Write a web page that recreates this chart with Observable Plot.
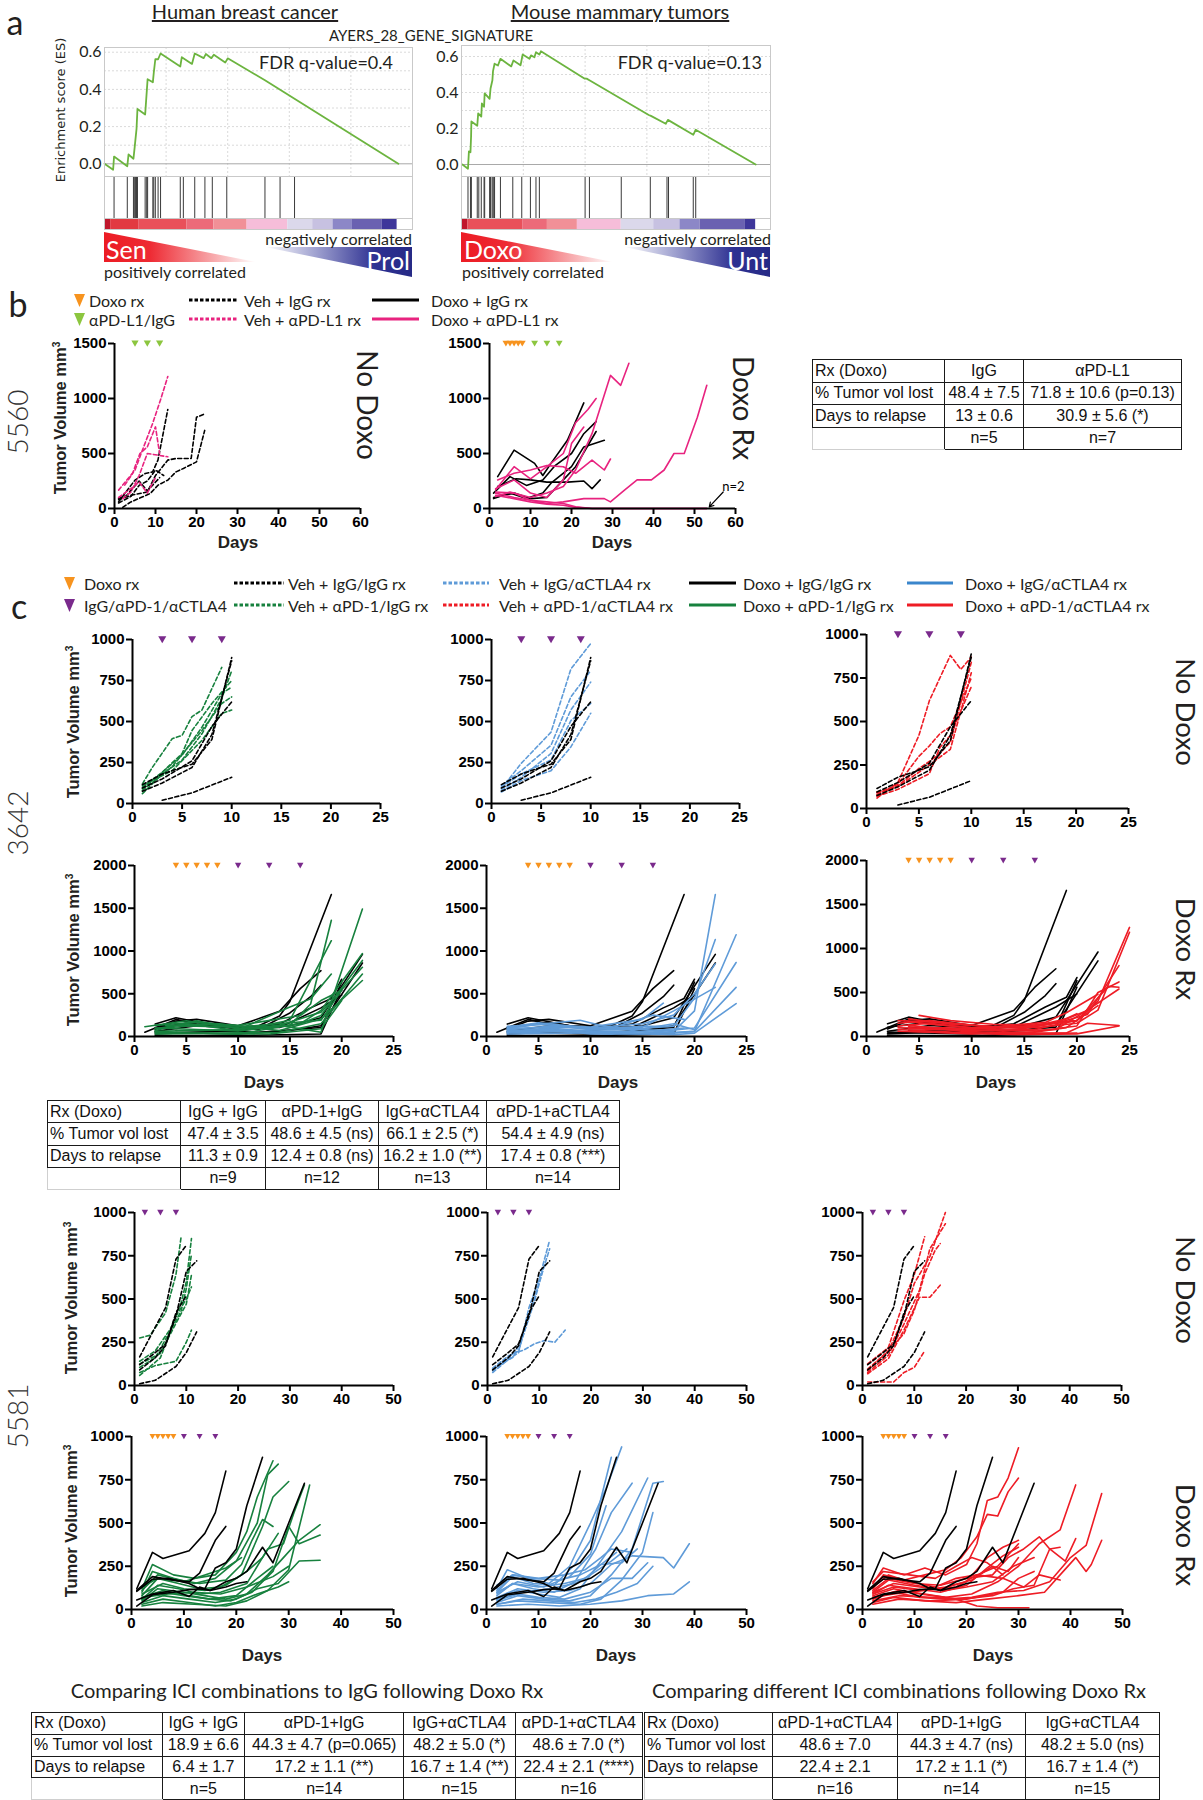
<!DOCTYPE html>
<html>
<head>
<meta charset="utf-8">
<script src="https://cdn.jsdelivr.net/npm/d3@7"></script>
<script src="https://cdn.jsdelivr.net/npm/@observablehq/plot@0.6"></script>
<style>
  html,body{margin:0;padding:0;background:#fff;}
  #fig{position:relative;width:1203px;height:1800px;overflow:hidden;background:#fff;color:#231f20;font-family:Lato,"Open Sans",sans-serif;}
  .abs{position:absolute;white-space:nowrap;line-height:1;}
  .tbl{position:absolute;border-collapse:collapse;font-family:"Liberation Sans",Arial,sans-serif;font-size:16px;color:#111;}
  .tbl td{border:1px solid #1a1a1a;text-align:center;padding:0 3px;white-space:nowrap;line-height:1;}
  .tbl td:first-child{text-align:left;padding-left:2px;}
  .tbl tr:last-child td:first-child{border-left-color:#cfcfcf;border-bottom-color:#cfcfcf;}
  sup{font-size:0.62em;vertical-align:0.6em;line-height:0;}
</style>
</head>
<body>
<div id="fig"></div>
<script>
// ======================= DATA =======================
// ---- Panel a : GSEA running enrichment score (rank fraction, ES)
const esHuman = [[0,0],[0.028,-0.032],[0.031,0.039],[0.074,-0.013],[0.078,0.05],[0.094,0.027],[0.098,0.09],[0.104,0.188],[0.107,0.295],[0.132,0.265],[0.14,0.455],[0.157,0.438],[0.16,0.49],[0.165,0.562],[0.174,0.562],[0.182,0.593],[0.246,0.523],[0.251,0.573],[0.284,0.537],[0.293,0.593],[0.322,0.568],[0.329,0.59],[0.347,0.568],[0.355,0.586],[0.392,0.544],[0.4,0.567],[0.521,0.449],[0.954,0]];
const hitsHuman = [0.031,0.074,0.094,0.098,0.101,0.104,0.107,0.132,0.137,0.14,0.157,0.16,0.165,0.174,0.182,0.246,0.256,0.293,0.326,0.35,0.397,0.521,0.57,0.617];
const barHuman = [[0,0.02,5],[0.02,0.111,4],[0.111,0.268,3],[0.268,0.355,2],[0.355,0.463,1],[0.463,0.595,0],[0.595,0.676,-1],[0.676,0.742,-2],[0.742,0.805,-3],[0.805,0.901,-4],[0.901,0.95,-5]];
const esMouse = [[0.003,0],[0.021,-0.024],[0.024,0.073],[0.029,0.068],[0.031,0.156],[0.032,0.239],[0.051,0.215],[0.054,0.284],[0.064,0.266],[0.066,0.339],[0.073,0.321],[0.075,0.395],[0.091,0.365],[0.094,0.422],[0.1,0.468],[0.102,0.519],[0.107,0.56],[0.118,0.55],[0.126,0.587],[0.161,0.545],[0.168,0.578],[0.191,0.551],[0.198,0.611],[0.22,0.587],[0.225,0.606],[0.236,0.596],[0.241,0.624],[0.252,0.611],[0.257,0.629],[0.399,0.477],[0.405,0.477],[0.414,0.468],[0.606,0.275],[0.613,0.27],[0.661,0.226],[0.668,0.248],[0.75,0.165],[0.758,0.193],[0.952,0]];
const hitsMouse = [0.021,0.029,0.032,0.051,0.056,0.064,0.073,0.075,0.091,0.094,0.099,0.102,0.105,0.107,0.126,0.166,0.195,0.223,0.241,0.252,0.4,0.414,0.517,0.611,0.665,0.67,0.75,0.758];
const barMouse = [[0,0.021,5],[0.021,0.198,3],[0.198,0.278,2],[0.278,0.375,1],[0.375,0.517,0],[0.517,0.622,-1],[0.622,0.707,-2],[0.707,0.772,-3],[0.772,0.917,-4],[0.917,0.952,-5]];
const esTicks = [0, 0.2, 0.4, 0.6];

// ---- Panel b : 5560 (day, tumor volume mm3)
const b_veh_IgG = [
 [[1,60],[2.5,136],[5,258],[7.5,318],[9.3,333],[10.6,440],[13,900]],
 [[1,80],[4,120],[8,150],[10,300],[13,440],[15,455],[18.7,455],[20,830],[22,860]],
 [[2,10],[4,60],[8.7,136],[10.6,212],[13,258],[15,333],[16.8,364],[20,424],[22,710]],
 [[1,50],[4,110],[6,210],[8,250],[10,350],[12,300]],
 [[1,90],[3,120],[6,250],[8,160],[11,280]]
];
const b_veh_PDL1 = [
 [[1,167],[3,258],[5,348],[6.8,530],[9.3,773],[11.2,985],[13,1200]],
 [[2.5,212],[4.4,318],[6.2,500],[8,560],[10,742],[11,500]],
 [[2,90],[4,150],[6,300],[8,500],[10.6,485],[13,470]],
 [[1,100],[4,180],[6,240],[8,140],[10,280]]
];
const b_doxo_IgG = [
 [[2,290],[6,530],[11,410],[13,300],[15,410],[19,620],[23,960]],
 [[1,140],[5,290],[9,210],[13,260],[16,390],[20,500],[23,680],[26,790]],
 [[1,90],[5,140],[9,90],[13,140],[15,230],[20,380],[23,560],[28,620]],
 [[2,200],[6.5,270],[10,260],[14,240],[19,240],[23,250],[25,180],[27,260]],
 [[1,100],[6,140],[10,90],[14,100],[18,260],[21,380],[26,700]]
];
const b_doxo_PDL1 = [
 [[1.5,170],[6,380],[10,270],[14,380],[18,500],[21,780],[24,900],[26,1000]],
 [[2,260],[6,320],[10,350],[14,390],[18,380],[21,320],[25,440],[28,350],[29.5,450]],
 [[1.5,110],[5,150],[10,100],[14,140],[18,200],[21,350],[25,680],[29.5,1210],[32,1120],[34,1320]],
 [[1.5,150],[6,140],[10,75],[14,45],[18,60],[23,90],[28,90],[29.5,60],[33,170],[36,260],[39.5,260],[42.6,350],[45,500],[47.5,500],[50.7,830],[53,1120]],
 [[1.5,140],[6,100],[10,75],[14,60],[18,45],[21,15],[25,0],[53,0]],
 [[1.5,120],[6,90],[10,60],[14,40],[18,30],[21,10],[25,0],[53,0]],
 [[1.5,180],[6,260],[10,140],[14,100],[18,260],[20,590],[23,740]]
];
const b_tri_noDoxo = [{d:5,c:"#8cc63f"},{d:8,c:"#8cc63f"},{d:11,c:"#8cc63f"}];
const b_tri_doxo = [4,5,6,7,8].map(d=>({d,c:"#f7931e"})).concat([11,14,17].map(d=>({d,c:"#8cc63f"})));

// ---- Panel c : 3642
const c3642_veh_IgG = [
 [[1,115],[3,180],[6,240],[8,390],[10,890]],
 [[1,95],[3,150],[6,260],[8,470],[10,620]],
 [[1,75],[3,125],[6,220],[8,420],[10,870]],
 [[3,20],[6,65],[10,160]]
];
const c3642_veh_PD1 = [
 [[1,120],[2,220],[4,395],[5,415],[6,530],[7,570],[9,830]],
 [[1,90],[3,190],[5,305],[6,445],[8,610],[10,750]],
 [[1,60],[3,180],[5,265],[7,425],[9,640],[10,810]],
 [[1,100],[3,190],[5,295],[7,465],[9,670],[10,710]],
 [[1,80],[4,225],[7,445],[9,610],[10,650]],
 [[1,110],[4,200],[7,385],[9,550],[10,570]]
];
const c3642_veh_CTLA4 = [
 [[1,90],[3,245],[6,435],[8,820],[10,975]],
 [[1,110],[3,200],[6,355],[8,650],[10,810]],
 [[1,80],[3,160],[6,305],[8,570],[10,740]],
 [[1,70],[3,140],[6,200],[8,345],[10,550]],
 [[1,100],[3,180],[6,265],[8,505],[10,610]]
];
const c3642_veh_combo = [
 [[1,60],[3,150],[5,420],[6,620],[8,880],[9,800],[10,870]],
 [[1,80],[3,140],[5,300],[6,360],[7,430],[8,470],[10,750]],
 [[1,95],[3,130],[5,230],[6,270],[7,320],[8,380],[10,840]],
 [[1,70],[3,110],[6,200],[7,350],[8,420],[10,700]],
 [[1,90],[3,125],[6,250],[8,340],[10,780]]
];
const c3642_doxo_IgG = [
 [[1,50],[4,200],[6,145],[10,105],[12,125],[14,240],[15,410],[19,1660]],
 [[2,85],[4,180],[6,200],[10,125],[14,295],[16,560],[18,770]],
 [[2,60],[6,125],[12,85],[15,275],[17,465],[18,600]],
 [[2,30],[10,70],[15,125],[18,220],[22,960]],
 [[2,105],[6,165],[10,85],[14,145],[17,335],[19,445],[20,670]],
 [[2,50],[10,30],[15,70],[18,125],[22,860]],
 [[2,145],[4,220],[8,125],[14,105],[18,335],[20,485]],
 [[4,70],[12,50],[18,105],[20,635]],
 [[2,10],[10,10],[18,30],[20,560]]
];
const c3642_doxo_PD1 = [
 [[1,115],[5,185],[10,90],[15,130],[17,380],[19,1360]],
 [[2,90],[5,150],[10,70],[15,190],[19,1120]],
 [[2,70],[6,185],[10,90],[14,130],[18,50],[22,1490]],
 [[2,50],[10,30],[16,150],[18,245],[22,890]],
 [[2,130],[6,170],[13,90],[18,285],[22,810]],
 [[2,30],[14,50],[18,150],[22,730]],
 [[2,90],[8,150],[14,70],[18,205],[22,655]],
 [[4,150],[10,130],[16,245],[18,420],[20,540]],
 [[2,60],[10,80],[15,345],[17,440],[19,730]],
 [[3,130],[10,110],[18,190],[20,540]],
 [[2,40],[13,30],[18,90],[20,420]],
 [[2,100],[10,65],[16,150],[18,305],[22,970]]
];
const c3642_doxo_CTLA4 = [
 [[2,120],[4,130],[9,190],[12,100],[15,80],[18,60],[20,300],[22,1660]],
 [[2,90],[5,150],[10,80],[15,120],[18,120],[20,450],[22,1135]],
 [[2,60],[6,100],[10,60],[14,60],[18,40],[20,60],[24,1190]],
 [[2,50],[6,90],[10,40],[15,40],[20,100],[24,865]],
 [[2,110],[5,160],[10,100],[15,150],[18,250],[20,500],[22,850]],
 [[2,70],[6,80],[10,30],[15,30],[20,60],[24,575]],
 [[2,40],[8,60],[12,40],[18,20],[20,40],[24,385]],
 [[2,80],[6,120],[10,90],[15,110],[18,300],[22,575]],
 [[2,100],[5,140],[10,110],[15,200],[17,390]],
 [[2,60],[8,70],[13,80],[18,120]],
 [[2,30],[8,40],[14,50],[19,100]],
 [[2,90],[6,110],[12,100],[16,250],[19,200]],
 [[2,50],[6,70],[12,30],[18,150],[20,80]]
];
const c3642_doxo_combo = [
 [[5,240],[8,180],[12,140],[16,130],[20,180],[22,400],[25,1240]],
 [[4,200],[8,140],[12,110],[16,100],[20,150],[22,300],[25,1185]],
 [[3,150],[6,180],[10,130],[15,90],[18,150],[21,250],[24,805]],
 [[4,170],[8,120],[12,80],[16,60],[20,120],[22,500],[24,620]],
 [[3,120],[6,150],[10,100],[15,120],[20,180],[23,570],[24,560]],
 [[3,100],[8,90],[13,60],[18,80],[21,300],[24,540]],
 [[4,130],[9,60],[14,40],[19,40],[21,150],[24,125]],
 [[3,80],[8,50],[14,20],[20,30],[24,120]],
 [[4,110],[10,90],[15,100],[18,150],[20,260]],
 [[3,60],[9,40],[15,30],[20,40]],
 [[5,150],[10,100],[16,120],[19,200],[21,295]],
 [[4,90],[10,70],[16,80],[19,160],[20,180]],
 [[3,180],[7,160],[12,110],[17,160],[19,270],[22,480]],
 [[4,60],[10,30],[16,50],[19,100],[22,350]]
];
// ---- Panel c : 5581
const c5581_veh_IgG = [
 [[1,165],[3,280],[6,450],[8,730],[10,810]],
 [[1,120],[4,190],[6,240],[8,400],[10,660],[12,720]],
 [[1,90],[4,160],[6,230],[8,420],[10,520]],
 [[1,10],[4,30],[8,110],[10,190],[12,310]]
];
const c5581_veh_PD1 = [
 [[1,275],[3,290],[6,420],[8,640],[9,860]],
 [[1,140],[4,200],[7,330],[9,480],[10,600],[11,850]],
 [[1,105],[4,160],[7,320],[9,430],[10,560],[11,760]],
 [[1,75],[4,115],[8,140],[10,250],[11,320]],
 [[1,58],[5,160],[8,400],[10,500],[11,570]],
 [[1,125],[5,185],[8,360],[10,470],[11,640]]
];
const c5581_veh_CTLA4 = [
 [[1,75],[4,150],[6,190],[8,450],[10,620],[12,840]],
 [[1,100],[4,170],[6,200],[8,400],[10,600],[12,790]],
 [[1,85],[5,185],[7,205],[9,240],[11,260],[13,250],[15,320]],
 [[1,95],[5,165],[7,300],[9,480],[11,700]]
];
const c5581_veh_combo = [
 [[1,95],[5,200],[8,395],[10,590],[13,745],[16,1000]],
 [[1,75],[5,175],[8,355],[11,550],[13,790],[16,935]],
 [[1,125],[5,220],[8,490],[10,640],[12,860]],
 [[1,68],[5,155],[8,320],[11,510],[13,510],[15,580]],
 [[1,20],[6,20],[8,75],[10,105],[12,200]],
 [[1,85],[5,200],[8,300],[10,435],[12,645],[14,780],[15,820]]
];
const c5581_doxo_IgG = [
 [[1,120],[4,330],[6,295],[11,340],[14,440],[16,560],[18,800]],
 [[1,110],[4,190],[8,170],[11,160],[13,210],[16,400],[18,480]],
 [[1,55],[4,90],[8,110],[11,75],[13,130],[15,110],[18,160],[20,180],[22,220],[25,360],[27,270],[30,500],[33,730]],
 [[1,20],[4,85],[8,100],[11,115],[14,120],[16,240],[18,270],[20,350],[22,600],[25,880]],
 [[1,105],[4,175],[7,180],[11,150],[13,120],[15,110],[18,130],[20,150],[22,160]]
];
const c5581_doxo_PD1 = [
 [[2,120],[4,260],[8,200],[12,180],[16,200],[20,330],[22,450],[24,650],[27,860]],
 [[2,100],[4,220],[8,180],[12,150],[16,180],[20,280],[24,500],[26,780],[28,840]],
 [[2,80],[5,180],[9,150],[13,120],[17,130],[21,200],[25,480],[27,650],[30,740]],
 [[2,60],[5,140],[9,120],[13,90],[17,100],[22,150],[26,350],[29,380],[31,560],[33,720]],
 [[2,50],[5,120],[10,100],[14,80],[18,60],[22,90],[26,200],[29,300],[32,400],[36,490]],
 [[2,70],[6,110],[11,80],[15,60],[19,50],[23,100],[27,220],[30,480],[32,380],[36,430]],
 [[2,40],[6,80],[11,60],[16,40],[20,60],[24,120],[28,150],[32,280],[36,285]],
 [[2,30],[6,60],[11,40],[16,20],[20,40],[24,90],[28,130],[30,160]],
 [[2,110],[5,200],[9,170],[13,150],[18,170],[21,260],[23,400],[25,520],[27,480]],
 [[2,90],[6,150],[10,120],[14,110],[18,140],[22,220],[25,300],[28,440]],
 [[2,60],[6,100],[10,80],[15,60],[20,80],[24,180],[27,250]],
 [[2,130],[5,180],[10,160],[14,200],[18,240],[21,300]],
 [[2,20],[6,40],[12,30],[18,20],[22,50],[26,110],[30,230],[34,720]],
 [[2,70],[7,90],[12,100],[17,90],[22,130],[27,190],[30,250]]
];
const c5581_doxo_CTLA4 = [
 [[2,120],[4,230],[8,180],[12,150],[16,250],[20,500],[23,700],[26,940]],
 [[2,100],[5,190],[9,150],[13,140],[17,260],[20,400],[24,880]],
 [[2,80],[5,150],[9,120],[13,100],[17,160],[21,350],[24,560],[28,730]],
 [[2,60],[6,110],[10,90],[14,70],[18,120],[22,280],[26,450],[31,760]],
 [[2,40],[6,80],[11,60],[16,50],[20,80],[24,200],[28,350],[32,730],[34,740]],
 [[2,30],[6,50],[12,40],[18,30],[22,60],[26,170],[30,330],[32,560]],
 [[2,70],[6,120],[11,100],[16,110],[20,150],[24,260],[28,310],[34,300],[36,240],[39,380]],
 [[2,20],[8,30],[14,20],[20,30],[26,50],[31,80],[36,90],[39,160]],
 [[2,110],[5,200],[10,180],[15,200],[19,230],[22,300],[24,350],[28,330]],
 [[2,90],[5,150],[10,130],[15,150],[19,180],[22,260],[26,270],[29,350]],
 [[2,50],[6,90],[10,70],[15,60],[20,100],[24,180],[28,180],[31,270]],
 [[2,140],[5,200],[9,180],[14,170],[18,200],[22,260],[25,330]],
 [[2,30],[7,60],[12,50],[17,40],[21,60],[25,100],[29,150],[32,250]],
 [[2,60],[7,100],[12,120],[17,150],[20,200],[24,280],[27,350]],
 [[2,100],[6,160],[11,130],[16,190],[20,320],[23,600]]
];
const c5581_doxo_combo = [
 [[2,150],[4,240],[8,200],[12,240],[16,200],[20,260],[22,380],[24,630],[26,650],[28,760],[30,935]],
 [[2,120],[4,200],[8,170],[12,200],[16,230],[19,300],[22,420],[24,550],[26,540],[28,680],[30,760]],
 [[2,100],[5,170],[10,140],[15,120],[20,160],[24,300],[27,360],[30,400]],
 [[2,90],[5,140],[10,120],[15,100],[20,140],[24,240],[27,310],[30,360]],
 [[2,80],[6,120],[11,90],[16,70],[21,90],[26,160],[30,250],[34,380],[38,460],[41,720]],
 [[2,60],[6,100],[11,70],[16,60],[21,70],[26,100],[31,110],[36,160],[40,300],[43,370],[46,670]],
 [[2,40],[6,70],[12,50],[18,40],[24,60],[30,80],[35,100],[38,200],[41,300],[43,220],[44,260],[46,400]],
 [[2,110],[5,180],[10,150],[15,140],[20,180],[25,200],[28,300],[31,350],[34,420],[36,350],[38,360]],
 [[2,70],[7,110],[12,90],[18,60],[22,20],[26,10],[32,10]],
 [[2,130],[5,200],[9,160],[14,130],[18,180],[22,200],[27,180],[31,130],[34,200],[38,170]],
 [[2,50],[7,80],[13,70],[19,60],[25,80],[29,120],[33,140],[36,350],[39,280],[41,410]],
 [[2,160],[4,220],[9,200],[14,180],[18,250],[21,300],[24,270],[27,200]],
 [[2,30],[7,60],[13,50],[20,60],[27,100],[30,180],[33,220]],
 [[2,90],[6,130],[11,110],[16,130],[21,170],[25,250],[28,220],[30,300]],
 [[2,70],[6,90],[12,110],[18,130],[22,200],[26,250],[30,380]],
 [[2,100],[6,150],[11,130],[16,110],[20,130],[25,160],[29,250],[33,300]]
];
const tri3642_noDoxo = [3,6,9].map(d=>({d,c:"#7a2a8c"}));
const tri3642_doxo = [4,5,6,7,8].map(d=>({d,c:"#f7931e"})).concat([10,13,16].map(d=>({d,c:"#7a2a8c"})));
const tri5581_noDoxo = [2,5,8].map(d=>({d,c:"#7a2a8c"}));
const tri5581_doxo = [4,5,6,7,8].map(d=>({d,c:"#f7931e"})).concat([10,13,16].map(d=>({d,c:"#7a2a8c"})));

// ---- Tables
const tab5560 = [["Rx (Doxo)","IgG","αPD-L1"],["% Tumor vol lost","48.4 ± 7.5","71.8 ± 10.6 (p=0.13)"],["Days to relapse","13 ± 0.6","30.9 ± 5.6 (*)"],["","n=5","n=7"]];
const tab3642 = [["Rx (Doxo)","IgG + IgG","αPD-1+IgG","IgG+αCTLA4","αPD-1+aCTLA4"],["% Tumor vol lost","47.4 ± 3.5","48.6 ± 4.5 (ns)","66.1 ± 2.5 (*)","54.4 ± 4.9 (ns)"],["Days to relapse","11.3 ± 0.9","12.4 ± 0.8 (ns)","16.2 ± 1.0 (**)","17.4 ± 0.8 (***)"],["","n=9","n=12","n=13","n=14"]];
const tab5581a = [["Rx (Doxo)","IgG + IgG","αPD-1+IgG","IgG+αCTLA4","αPD-1+αCTLA4"],["% Tumor vol lost","18.9 ± 6.6","44.3 ± 4.7 (p=0.065)","48.2 ± 5.0 (*)","48.6 ± 7.0 (*)"],["Days to relapse","6.4 ± 1.7","17.2 ± 1.1 (**)","16.7 ± 1.4 (**)","22.4 ± 2.1 (****)"],["","n=5","n=14","n=15","n=16"]];
const tab5581b = [["Rx (Doxo)","αPD-1+αCTLA4","αPD-1+IgG","IgG+αCTLA4"],["% Tumor vol lost","48.6 ± 7.0","44.3 ± 4.7 (ns)","48.2 ± 5.0 (ns)"],["Days to relapse","22.4 ± 2.1","17.2 ± 1.1 (*)","16.7 ± 1.4 (*)"],["","n=16","n=14","n=15"]];

// ======================= DRAWING =======================
const fig = document.getElementById("fig");
const SANS = "Lato, 'Open Sans', sans-serif";
const ARIAL = "'Liberation Sans', Arial, sans-serif";
const C = {black:"#000", pink:"#e8237f", green:"#17813e", blue:"#5f9bd8", red:"#ee1c25", es:"#6cb43f"};

function T(str, x, y, o = {}) {
  const d = document.createElement("div");
  d.className = "abs";
  if (o.html) d.innerHTML = str; else d.textContent = str;
  d.style.left = x + "px"; d.style.top = y + "px";
  d.style.fontSize = (o.size || 16) + "px";
  d.style.fontFamily = o.family || SANS;
  if (o.weight) d.style.fontWeight = o.weight;
  if (o.color) d.style.color = o.color;
  if (o.underline) d.style.textDecoration = "underline";
  const ax = o.anchor === "start" ? "0%" : o.anchor === "end" ? "-100%" : "-50%";
  d.style.transform = `translate(${ax},-50%)` + (o.rot ? ` rotate(${o.rot}deg)` : "");
  fig.appendChild(d);
  return d;
}
function place(svg, left, top) {
  svg.style.position = "absolute";
  svg.style.left = left + "px";
  svg.style.top = top + "px";
  fig.appendChild(svg);
}
const DOWN = {draw(ctx, size) { const s = Math.sqrt(size); ctx.moveTo(-0.6*s, -0.5*s); ctx.lineTo(0.6*s, -0.5*s); ctx.lineTo(0, 0.55*s); ctx.closePath(); }};

function chart(o) {
  const ML = 60, MR = 16, MT = 12, MB = 32;
  const w = o.x1 - o.x0, h = o.yBot - o.yTop;
  const marks = [];
  for (const g of o.groups) {
    const rows = g.data.flatMap((s, i) => s.map(([d, v]) => ({d, v, id: i})));
    marks.push(Plot.line(rows, {x: "d", y: "v", z: "id", stroke: g.color, strokeWidth: 1.6, strokeDasharray: g.dash ? "4,2.5" : null}));
  }
  marks.push(Plot.ruleY([0], {x1: () => 0, x2: () => o.xMax, stroke: "#000", strokeWidth: 2}));
  marks.push(Plot.ruleX([0], {y1: () => 0, y2: () => o.yMax, stroke: "#000", strokeWidth: 2}));
  marks.push(Plot.axisX(o.xTicks, {tickSize: 6, tickPadding: 2, strokeWidth: 2, tickFormat: "d", label: null}));
  marks.push(Plot.axisY(o.yTicks, {tickSize: 6, tickPadding: 2, strokeWidth: 2, tickFormat: "d", label: null}));
  if (o.tris) marks.push(Plot.dot(o.tris, {x: "d", y: () => o.yMax, fill: "c", symbol: DOWN, r: o.triR || 3.2}));
  if (o.extra) marks.push(...o.extra);
  const svg = Plot.plot({
    width: ML + w + MR, height: MT + h + MB,
    marginLeft: ML, marginRight: MR, marginTop: MT, marginBottom: MB,
    x: {domain: [0, o.xMax], label: null}, y: {domain: [0, o.yMax], label: null},
    color: {type: "identity"},
    style: {fontFamily: ARIAL, fontSize: "15px", fontWeight: "bold", color: "#000", overflow: "visible", background: "transparent"},
    marks
  });
  place(svg, o.x0 - ML, o.yTop - MT);
}

// ---------- Panel a ----------
const BAR_LEVELS = [5,4,3,2,1,0,-1,-2,-3,-4,-5];
const BAR_COLORS = ["#c0172c","#e23a41","#e9505a","#ec6a79","#f19097","#f6bdd9","#dbd8eb","#c7c1e1","#8c87c7","#6a61b1","#3e369a"];
function gsea(o) {
  const per = (o.zeroPx - o.sixPx) / 0.6;
  const yDom = [-(o.esBot - o.zeroPx) / per, 0.6 + (o.sixPx - o.top) / per];
  const ML = 34, W = o.x1 - o.x0;
  const st = {fontFamily: SANS, fontSize: "16px", color: "#231f20", overflow: "visible", background: "transparent"};
  const es = Plot.plot({
    width: ML + W + 1, height: o.esBot - o.top, marginLeft: ML, marginRight: 1, marginTop: 0, marginBottom: 0,
    x: {domain: [0, 1], axis: null}, y: {domain: yDom}, style: st,
    marks: [
      Plot.gridY([0.1,0.2,0.3,0.4,0.5,0.6], {stroke: "#dadada", strokeOpacity: 1, strokeDasharray: "2,2"}),
      Plot.gridX([0.2,0.4,0.6,0.8], {stroke: "#dadada", strokeOpacity: 1, strokeDasharray: "2,2"}),
      Plot.ruleY([0], {stroke: "#a9a9a9"}),
      Plot.line(o.curve, {x: d => d[0], y: d => d[1], stroke: C.es, strokeWidth: 1.8}),
      Plot.frame({stroke: "#c9c9c9"}),
      Plot.axisY(esTicks, {tickSize: 0, tickPadding: 3, tickFormat: ".1f", label: null})
    ]
  });
  place(es, o.x0 - ML, o.top);
  const hits = Plot.plot({
    width: W + 1, height: o.hitsBot - o.esBot, margin: 0, marginRight: 1,
    x: {domain: [0, 1], axis: null}, y: {axis: null}, style: st,
    marks: [Plot.ruleX(o.hits, {stroke: "#3a3a3a", strokeWidth: 1}), Plot.frame({stroke: "#c9c9c9"})]
  });
  place(hits, o.x0, o.esBot);
  const bar = Plot.plot({
    width: W + 1, height: o.barBot - o.hitsBot, margin: 0, marginRight: 1,
    x: {domain: [0, 1], axis: null}, y: {domain: [0, 1], axis: null},
    color: {type: "ordinal", domain: BAR_LEVELS, range: BAR_COLORS}, style: st,
    marks: [Plot.rect(o.bar, {x1: d => d[0], x2: d => d[1], y1: () => 0, y2: () => 1, fill: d => d[2]}), Plot.frame({stroke: "#c9c9c9"})]
  });
  place(bar, o.x0, o.hitsBot);
}
function wedge(left, top, w, h, poly, grad) {
  const d = document.createElement("div");
  d.className = "abs";
  Object.assign(d.style, {left: left + "px", top: top + "px", width: w + "px", height: h + "px", clipPath: poly, background: grad});
  fig.appendChild(d);
}

T("a", 15, 22, {size: 34});
T("Human breast cancer", 245, 11, {size: 20, underline: true});
T("Mouse mammary tumors", 620, 11, {size: 20, underline: true});
T("AYERS_28_GENE_SIGNATURE", 431, 35, {size: 15});
T("Enrichment score (ES)", 60, 110, {size: 13, family: "'DejaVu Sans', sans-serif", rot: -90});
gsea({x0: 104, x1: 412, top: 47, sixPx: 51.7, zeroPx: 163.3, esBot: 176, hitsBot: 218, barBot: 229, curve: esHuman, hits: hitsHuman, bar: barHuman});
gsea({x0: 461, x1: 770, top: 45, sixPx: 56, zeroPx: 164, esBot: 176, hitsBot: 218, barBot: 229, curve: esMouse, hits: hitsMouse, bar: barMouse});
T("FDR q-value=0.4", 393, 62, {size: 18, anchor: "end"});
T("FDR q-value=0.13", 762, 62, {size: 18, anchor: "end"});
const RED_G = "linear-gradient(90deg,#ec1c24 0%,#ee2a33 30%,#f7a3a6 70%,#ffffff 100%)";
const BLUE_G = "linear-gradient(90deg,#ffffff 0%,#9ea0cf 35%,#2e3192 75%,#262a86 100%)";
wedge(104, 232, 152, 30, "polygon(0 0,100% 100%,0 100%)", RED_G);
wedge(265, 247, 147, 30, "polygon(0 0,100% 0,100% 100%)", BLUE_G);
wedge(461, 232, 152, 30, "polygon(0 0,100% 100%,0 100%)", RED_G);
wedge(624, 247, 146, 30, "polygon(0 0,100% 0,100% 100%)", BLUE_G);
T("Sen", 106, 249, {size: 25, anchor: "start", color: "#fff"});
T("Prol", 410, 260, {size: 25, anchor: "end", color: "#fff"});
T("Doxo", 464, 249, {size: 25, anchor: "start", color: "#fff"});
T("Unt", 768, 260, {size: 25, anchor: "end", color: "#fff"});
T("negatively correlated", 412, 239, {size: 16, anchor: "end"});
T("positively correlated", 104, 272, {size: 16, anchor: "start"});
T("negatively correlated", 771, 239, {size: 16, anchor: "end"});
T("positively correlated", 462, 272, {size: 16, anchor: "start"});

// ---------- legends ----------
function swLine(x1, x2, y, color, dash) {
  const s = document.createElementNS("http://www.w3.org/2000/svg", "svg");
  s.setAttribute("width", x2 - x1); s.setAttribute("height", 6);
  s.innerHTML = `<line x1="0" x2="${x2 - x1}" y1="3" y2="3" stroke="${color}" stroke-width="3" ${dash ? 'stroke-dasharray="3.5,2"' : ""}/>`;
  place(s, x1, y - 3);
}
function swTri(cx, cy, color, w, h) {
  const s = document.createElementNS("http://www.w3.org/2000/svg", "svg");
  s.setAttribute("width", w); s.setAttribute("height", h);
  s.innerHTML = `<polygon points="0,0 ${w},0 ${w / 2},${h}" fill="${color}"/>`;
  place(s, cx - w / 2, cy - h / 2);
}

// ---------- Panel b ----------
T("b", 18, 304, {size: 34});
swTri(79, 300, "#f7931e", 11, 13); T("Doxo rx", 89, 301, {size: 16, anchor: "start"});
swTri(79, 319, "#8cc63f", 11, 13); T("αPD-L1/IgG", 89, 320, {size: 16, anchor: "start"});
swLine(189, 237, 300, C.black, true); T("Veh + IgG rx", 244, 301, {size: 16, anchor: "start"});
swLine(189, 237, 319, C.pink, true); T("Veh + αPD-L1 rx", 244, 320, {size: 16, anchor: "start"});
swLine(372, 419, 300, C.black, false); T("Doxo + IgG rx", 431, 301, {size: 16, anchor: "start"});
swLine(372, 419, 319, C.pink, false); T("Doxo + αPD-L1 rx", 431, 320, {size: 16, anchor: "start"});

T("5560", 17, 422, {size: 28, rot: -90, color: "#333", weight: 300});
T("Tumor Volume mm<sup>3</sup>", 60, 418, {html: true, size: 16.5, weight: "bold", family: ARIAL, rot: -90});
const ticks60 = [0,10,20,30,40,50,60];
chart({x0: 114, x1: 360, yTop: 343, yBot: 508, xMax: 60, yMax: 1500, xTicks: ticks60, yTicks: [0,500,1000,1500],
  groups: [{data: b_veh_IgG, color: C.black, dash: true}, {data: b_veh_PDL1, color: C.pink, dash: true}], tris: b_tri_noDoxo, triR: 3.4});
const nEnd = b_doxo_PDL1[5][b_doxo_PDL1[5].length - 1];
chart({x0: 489, x1: 735, yTop: 343, yBot: 508, xMax: 60, yMax: 1500, xTicks: ticks60, yTicks: [0,500,1000,1500],
  groups: [{data: b_doxo_IgG, color: C.black}, {data: b_doxo_PDL1, color: C.pink}], tris: b_tri_doxo, triR: 3.2,
  extra: [
    Plot.arrow([nEnd], {x1: d => d[0] + 4, y1: d => d[1] + 150, x2: d => d[0] + 0.6, y2: d => d[1] + 15, stroke: "#000", strokeWidth: 1.2, headLength: 6}),
    Plot.text([nEnd], {x: d => d[0] + 6.5, y: d => d[1] + 200, text: () => "n=2", fontSize: 13, fontWeight: "normal", fontFamily: SANS})
  ]});
T("Days", 238, 542, {size: 17, weight: "bold", family: ARIAL});
T("Days", 612, 542, {size: 17, weight: "bold", family: ARIAL});
T("No Doxo", 368, 405, {size: 28, rot: 90});
T("Doxo Rx", 744, 408, {size: 28, rot: 90});

function table(rows, left, top, width, height, cols) {
  const t = document.createElement("table");
  t.className = "tbl";
  Object.assign(t.style, {left: left + "px", top: top + "px", width: width + "px", height: height + "px", tableLayout: cols ? "fixed" : "auto"});
  if (cols) { const cg = document.createElement("colgroup"); cols.forEach(w => { const c = document.createElement("col"); c.style.width = w + "px"; cg.appendChild(c); }); t.appendChild(cg); }
  rows.forEach(r => { const tr = document.createElement("tr"); tr.style.height = (height / rows.length) + "px"; r.forEach(v => { const td = document.createElement("td"); td.textContent = v; tr.appendChild(td); }); t.appendChild(tr); });
  fig.appendChild(t);
}
table(tab5560, 812, 359, 369, 90, [132, 79, 158]);

// ---------- Panel c ----------
T("c", 19, 606, {size: 34});
swTri(69, 583, "#f7931e", 11, 13); T("Doxo rx", 84, 584, {size: 16, anchor: "start"});
swTri(69, 605, "#7a2a8c", 11, 13); T("IgG/αPD-1/αCTLA4", 84, 606, {size: 16, anchor: "start"});
swLine(234, 284, 583, C.black, true); T("Veh + IgG/IgG rx", 288, 584, {size: 16, anchor: "start"});
swLine(234, 284, 605, C.green, true); T("Veh + αPD-1/IgG rx", 288, 606, {size: 16, anchor: "start"});
swLine(443, 489, 583, C.blue, true); T("Veh + IgG/αCTLA4 rx", 499, 584, {size: 16, anchor: "start"});
swLine(443, 489, 605, C.red, true); T("Veh + αPD-1/αCTLA4 rx", 499, 606, {size: 16, anchor: "start"});
swLine(689, 736, 583, C.black, false); T("Doxo + IgG/IgG rx", 743, 584, {size: 16, anchor: "start"});
swLine(689, 736, 605, C.green, false); T("Doxo + αPD-1/IgG rx", 743, 606, {size: 16, anchor: "start"});
swLine(907, 953, 583, "#3a86cc", false); T("Doxo + IgG/αCTLA4 rx", 965, 584, {size: 16, anchor: "start"});
swLine(907, 953, 605, C.red, false); T("Doxo + αPD-1/αCTLA4 rx", 965, 606, {size: 16, anchor: "start"});

const t25 = [0,5,10,15,20,25], t50 = [0,10,20,30,40,50];
const y1000 = [0,250,500,750,1000], y2000 = [0,500,1000,1500,2000];
// 3642 row 1 (No Doxo)
const r1 = [[132, 380, 639, 803], [491, 739, 639, 803], [866, 1128, 634, 808]];
const vehTreat3642 = [[c3642_veh_PD1, C.green], [c3642_veh_CTLA4, C.blue], [c3642_veh_combo, C.red]];
r1.forEach(([x0, x1, yT, yB], i) => chart({x0, x1, yTop: yT, yBot: yB, xMax: 25, yMax: 1000, xTicks: t25, yTicks: y1000,
  groups: [{data: vehTreat3642[i][0], color: vehTreat3642[i][1], dash: true}, {data: c3642_veh_IgG, color: C.black, dash: true}], tris: tri3642_noDoxo, triR: 3.8}));
// 3642 row 2 (Doxo Rx)
const r2 = [[134, 393, 865, 1036], [486, 746, 865, 1036], [866, 1129, 860, 1036]];
const doxoTreat3642 = [[c3642_doxo_PD1, C.green], [c3642_doxo_CTLA4, C.blue], [c3642_doxo_combo, C.red]];
r2.forEach(([x0, x1, yT, yB], i) => chart({x0, x1, yTop: yT, yBot: yB, xMax: 25, yMax: 2000, xTicks: t25, yTicks: y2000,
  groups: [{data: c3642_doxo_IgG, color: C.black}, {data: doxoTreat3642[i][0], color: doxoTreat3642[i][1]}], tris: tri3642_doxo, triR: 3}));
T("3642", 17, 823, {size: 28, rot: -90, color: "#333", weight: 300});
T("Tumor Volume mm<sup>3</sup>", 73, 722, {html: true, size: 16.5, weight: "bold", family: ARIAL, rot: -90});
T("Tumor Volume mm<sup>3</sup>", 73, 950, {html: true, size: 16.5, weight: "bold", family: ARIAL, rot: -90});
T("No Doxo", 1186, 712, {size: 27.5, rot: 90});
T("Doxo Rx", 1186, 949, {size: 27.5, rot: 90});
[264, 618, 996].forEach(x => T("Days", x, 1082, {size: 17, weight: "bold", family: ARIAL}));

table(tab3642, 47, 1100, 572, 89, [133, 85, 113, 108, 133]);

// 5581 row 1 (No Doxo)
const r3 = [[134, 393, 1212, 1385], [487, 746, 1212, 1385], [862, 1121, 1212, 1385]];
const vehTreat5581 = [[c5581_veh_PD1, C.green], [c5581_veh_CTLA4, C.blue], [c5581_veh_combo, C.red]];
r3.forEach(([x0, x1, yT, yB], i) => chart({x0, x1, yTop: yT, yBot: yB, xMax: 50, yMax: 1000, xTicks: t50, yTicks: y1000,
  groups: [{data: vehTreat5581[i][0], color: vehTreat5581[i][1], dash: true}, {data: c5581_veh_IgG, color: C.black, dash: true}], tris: tri5581_noDoxo, triR: 3}));
// 5581 row 2 (Doxo Rx)
const r4 = [[131, 393, 1436, 1609], [486, 746, 1436, 1609], [862, 1122, 1436, 1609]];
const doxoTreat5581 = [[c5581_doxo_PD1, C.green], [c5581_doxo_CTLA4, C.blue], [c5581_doxo_combo, C.red]];
r4.forEach(([x0, x1, yT, yB], i) => chart({x0, x1, yTop: yT, yBot: yB, xMax: 50, yMax: 1000, xTicks: t50, yTicks: y1000,
  groups: [{data: doxoTreat5581[i][0], color: doxoTreat5581[i][1]}, {data: c5581_doxo_IgG, color: C.black}], tris: tri5581_doxo, triR: 2.8}));
T("5581", 17, 1416, {size: 28, rot: -90, color: "#333", weight: 300});
T("Tumor Volume mm<sup>3</sup>", 71, 1298, {html: true, size: 16.5, weight: "bold", family: ARIAL, rot: -90});
T("Tumor Volume mm<sup>3</sup>", 71, 1521, {html: true, size: 16.5, weight: "bold", family: ARIAL, rot: -90});
T("No Doxo", 1186, 1290, {size: 27.5, rot: 90});
T("Doxo Rx", 1186, 1535, {size: 27.5, rot: 90});
[262, 616, 993].forEach(x => T("Days", x, 1655, {size: 17, weight: "bold", family: ARIAL}));

T("Comparing ICI combinations to IgG following Doxo Rx", 307, 1690, {size: 20});
T("Comparing different ICI combinations following Doxo Rx", 899, 1690, {size: 20});
table(tab5581a, 31, 1712, 612, 87, null);
table(tab5581b, 644, 1712, 515, 87, [128, 125, 128, 134]);
</script>
</body>
</html>
